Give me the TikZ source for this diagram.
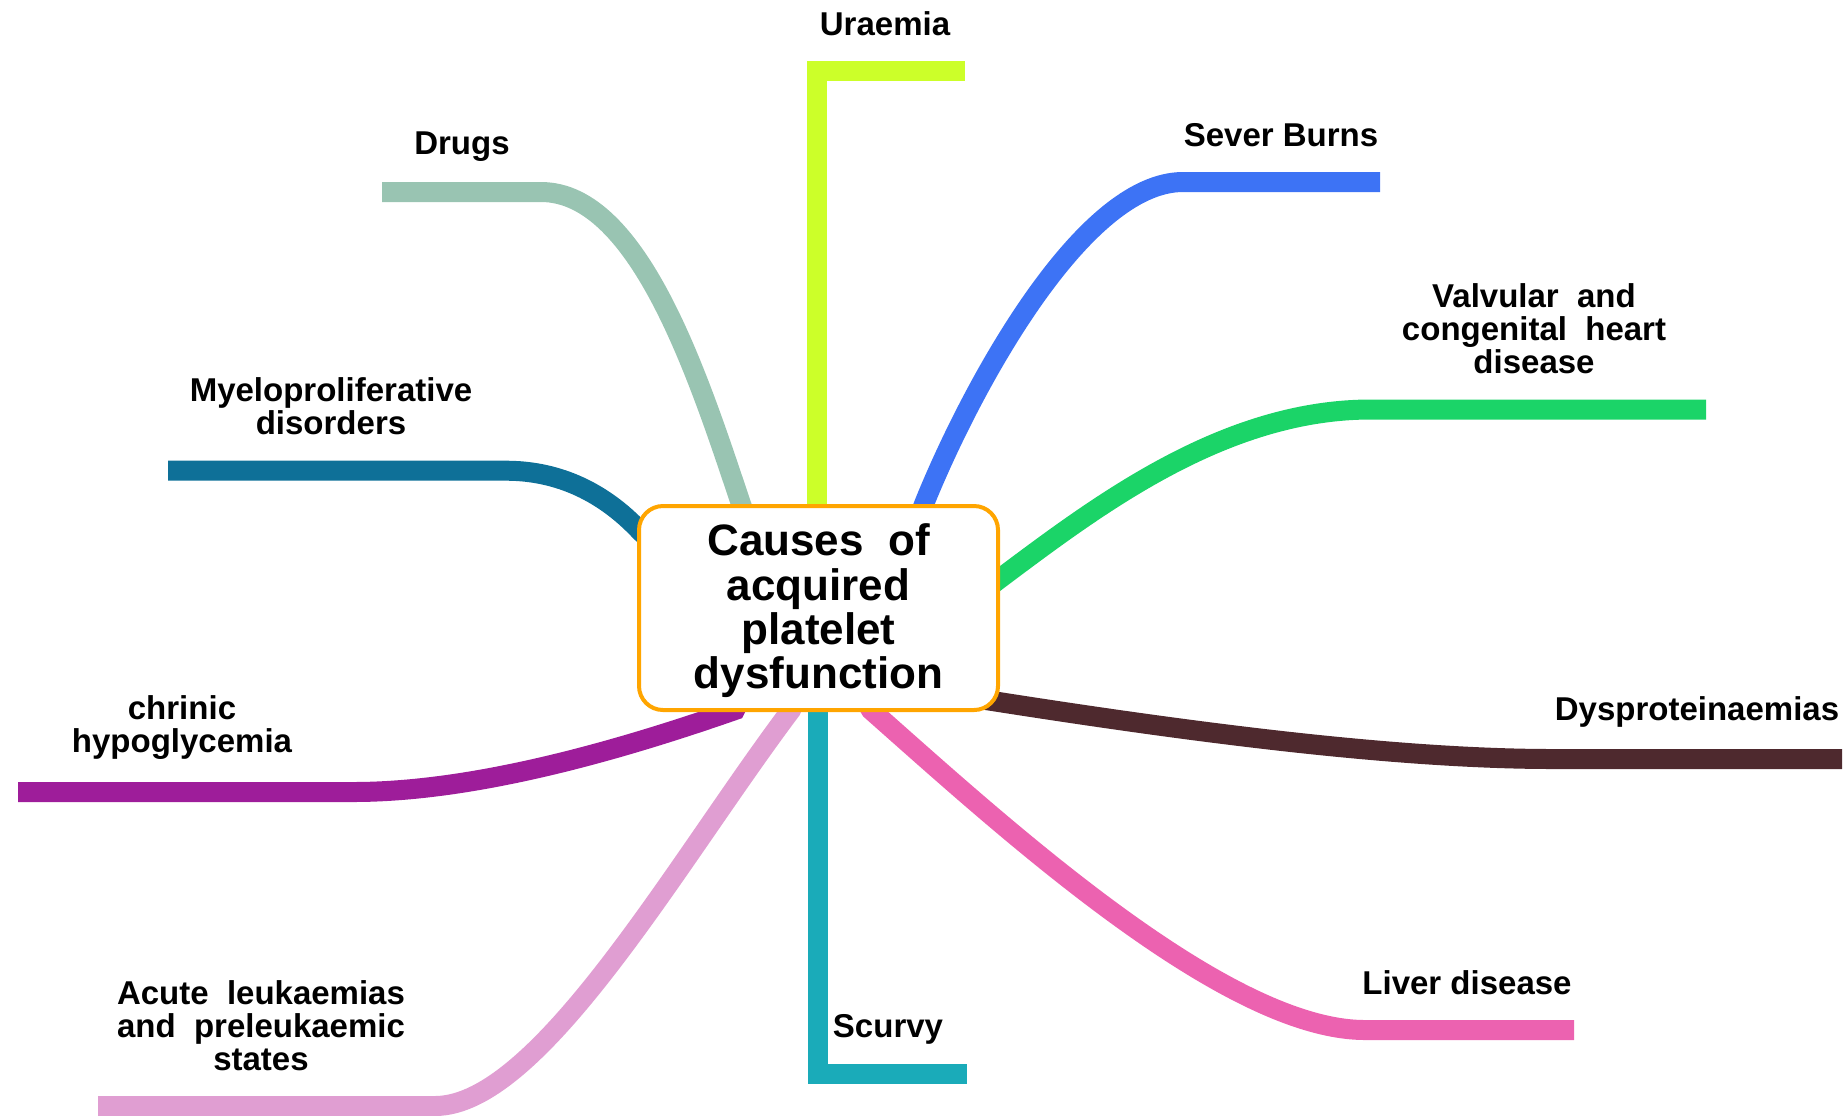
\documentclass[tikz,border=0pt]{standalone}
\usepackage{fontspec}
\setmainfont{Liberation Sans}
\usetikzlibrary{backgrounds}
\definecolor{cUra}{RGB}{204,255,41}
\definecolor{cDrug}{RGB}{153,196,178}
\definecolor{cBurn}{RGB}{61,115,245}
\definecolor{cValv}{RGB}{27,212,104}
\definecolor{cDysp}{RGB}{78,41,46}
\definecolor{cLiver}{RGB}{236,98,176}
\definecolor{cScur}{RGB}{26,171,185}
\definecolor{cAcute}{RGB}{224,158,210}
\definecolor{cChr}{RGB}{158,29,154}
\definecolor{cMyel}{RGB}{14,112,152}
\definecolor{cBox}{RGB}{255,165,0}
\tikzset{
  branch/.style={line width=10pt, line cap=butt, line join=miter},
  lbl/.style={font=\fontsize{16.5}{16.5}\selectfont\bfseries, align=center, inner sep=0pt},
  centerbox/.style={draw=cBox, line width=2pt, fill=white, rounded corners=12pt,
    minimum width=179.5pt, minimum height=102pt},
  centertext/.style={align=center, inner sep=0pt,
    font=\fontsize{22}{22.2}\selectfont\bfseries}
}
\begin{document}
\begin{tikzpicture}[x=0.5pt,y=-0.5pt]
\useasboundingbox (0,0) rectangle (1845,1115);
\node[centerbox] (c) at (818.5,608) {};
\node[centertext] (ct) at (818.5,611) {Causes\ \ of\\acquired\\platelet\\dysfunction};
\begin{scope}[on background layer]
% start points inside the box
\coordinate (sU) at (817,560);
\coordinate (sD) at (745,515);
\coordinate (sB) at (920,515);
\coordinate (sV) at (985,590);
\coordinate (sY) at (975,698);
\coordinate (sL) at (865,700);
\coordinate (sS) at (818,690);
\coordinate (sA) at (795,700);
\coordinate (sC) at (740,700);
\coordinate (sM) at (650,540);
% free ends
\coordinate (eU) at (965,70.6);
\coordinate (eD) at (382,192);
\coordinate (eB) at (1380,182);
\coordinate (eV) at (1706,409.5);
\coordinate (eY) at (1842,759);
\coordinate (eL) at (1574,1030);
\coordinate (eS) at (967,1074);
\coordinate (eA) at (98,1106);
\coordinate (eC) at (18,792);
\coordinate (eM) at (168,470.7);
\draw[branch, cUra] (sU) -- (817,70.6) -- (eU);
\draw[branch, cDrug] (sD) -- (741,504) .. controls (700,382) and (640,192) .. (541,192) -- (eD);
\draw[branch, cBurn] (sB) -- (924,504) .. controls (972,385) and (1083,182) .. (1183,182) -- (eB);
\draw[branch, cValv] (sV) -- (998,580) .. controls (1098,505) and (1224,409.5) .. (1371,409.5) -- (eV);
\draw[branch, cDysp] (sY) -- (986,700) .. controls (1177,730) and (1389,759) .. (1553,759) -- (eY);
\draw[branch, cLiver] (sL) -- (871,710) .. controls (1000,824) and (1224,1030) .. (1365,1030) -- (eL);
\draw[branch, cScur] (sS) -- (818,1074) -- (eS);
\draw[branch, cAcute] (sA) -- (791,710) .. controls (678,860) and (540,1106) .. (435,1106) -- (eA);
\draw[branch, cChr] (sC) -- (735,710) .. controls (612,753) and (471,792) .. (353,792) -- (eC);
\draw[branch, cMyel] (sM) -- (641,532) .. controls (600,488) and (553,470.7) .. (506,470.7) -- (eM);
\end{scope}
% labels
\node[lbl] (tU) at (885,23.5) {Uraemia};
\node[lbl] (tD) at (462,147) {Drugs};
\node[lbl] (tB) at (1281,135) {Sever Burns};
\node[lbl] (tV) at (1534,329) {Valvular\ \ and\\congenital\ \ heart\\disease};
\node[lbl] (tM) at (331,406) {Myeloproliferative\\disorders};
\node[lbl] (tY) at (1697,712) {Dysproteinaemias};
\node[lbl] (tC) at (182,728) {chrinic\\hypoglycemia};
\node[lbl] (tA) at (261,1026) {Acute\ \ leukaemias\\and\ \ preleukaemic\\states};
\node[lbl] (tS) at (888,1029) {Scurvy};
\node[lbl] (tL) at (1467,983) {Liver disease};
\end{tikzpicture}
\end{document}
